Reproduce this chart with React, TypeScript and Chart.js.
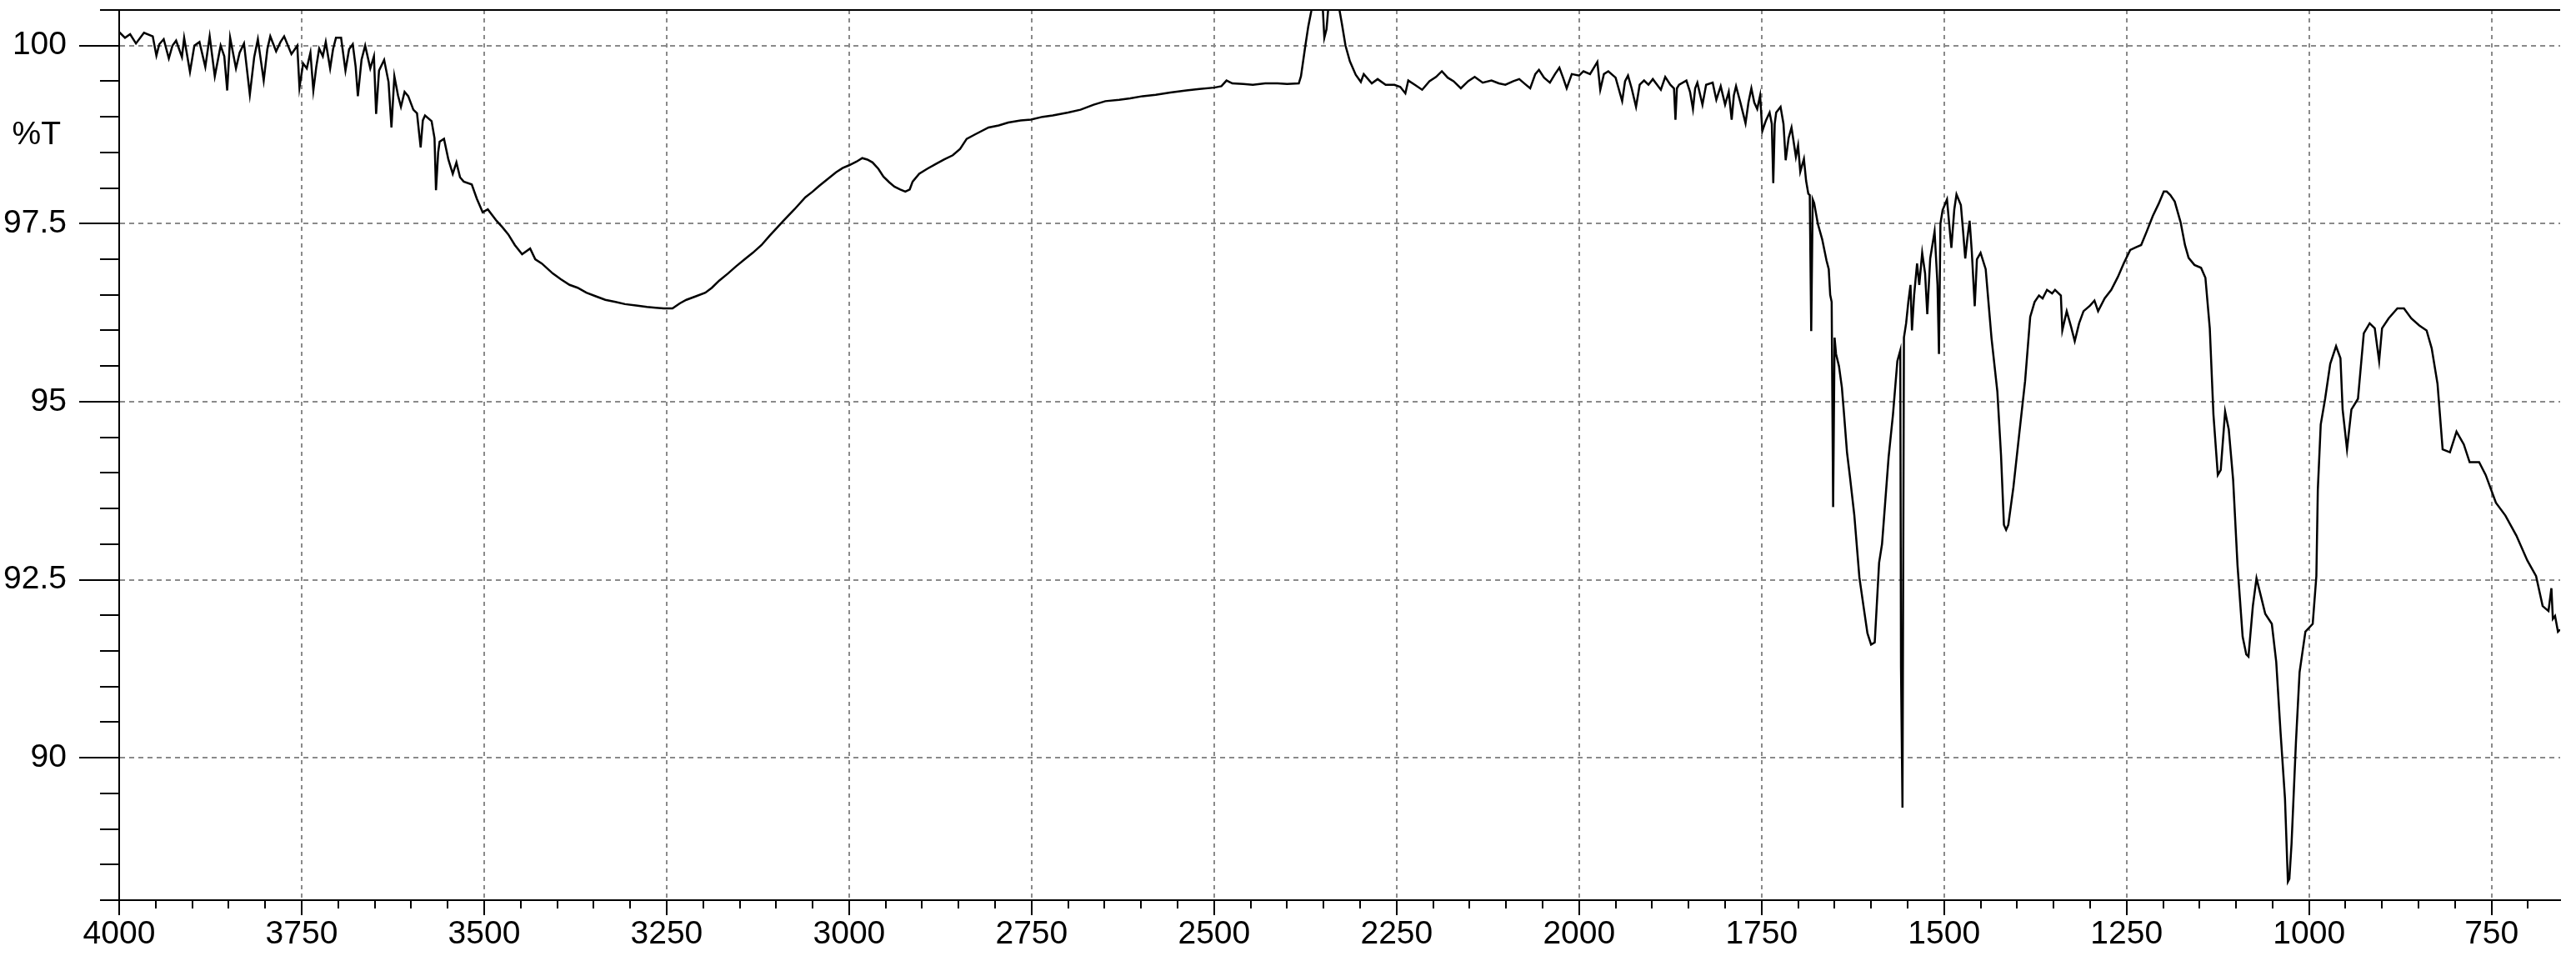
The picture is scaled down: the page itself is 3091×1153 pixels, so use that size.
import React, { useEffect, useRef } from 'react';
import { Chart, registerables } from 'chart.js';

Chart.register(...registerables);

// Axis ranges and labelled ticks
const X_MIN = 656;
const X_MAX = 4000;
const Y_MIN = 88;
const Y_MAX = 100.5;
const xTickLabels = [4000, 3750, 3500, 3250, 3000, 2750, 2500, 2250, 2000, 1750, 1500, 1250, 1000, 750];
const yTickLabels = [100, 97.5, 95, 92.5, 90];
const yAxisUnit = '%T';

// Spectrum: [wavenumber, %T]
const segOH: [number, number][] = [
  [4000, 100.19], [3992, 100.11], [3985, 100.16], [3977, 100.03], [3966, 100.18], [3954, 100.13], [3949, 99.86],
  [3945, 100.02], [3939, 100.09], [3932, 99.82], [3927, 100.0], [3922, 100.07], [3914, 99.84], [3911, 100.11],
  [3903, 99.63], [3897, 100.0], [3890, 100.05], [3882, 99.7], [3876, 100.13], [3869, 99.57], [3861, 100.0],
  [3856, 99.85], [3852, 99.37], [3848, 100.11], [3840, 99.68], [3835, 99.9], [3829, 100.03], [3821, 99.31],
  [3815, 99.84], [3810, 100.09], [3802, 99.51], [3797, 99.95], [3793, 100.13], [3785, 99.92], [3779, 100.05],
  [3774, 100.13], [3764, 99.88], [3756, 100.0], [3753, 99.41], [3748, 99.75], [3743, 99.68], [3738, 99.9],
  [3734, 99.37], [3730, 99.7], [3726, 99.96], [3721, 99.85], [3717, 100.05], [3711, 99.68], [3707, 99.95],
  [3703, 100.11], [3696, 100.11], [3690, 99.65], [3685, 99.95], [3680, 100.02], [3676, 99.7], [3673, 99.29],
  [3668, 99.8], [3663, 100.0], [3656, 99.68], [3651, 99.85], [3648, 99.04], [3644, 99.65], [3637, 99.8],
  [3631, 99.49], [3627, 98.85], [3623, 99.57], [3618, 99.3], [3614, 99.14], [3609, 99.35], [3604, 99.29],
  [3597, 99.1], [3592, 99.05], [3587, 98.57], [3584, 98.95], [3581, 99.02], [3572, 98.94], [3568, 98.7],
  [3566, 97.97], [3563, 98.5], [3561, 98.65], [3555, 98.69], [3549, 98.4], [3543, 98.2], [3538, 98.36],
  [3533, 98.15], [3528, 98.09], [3517, 98.05], [3510, 97.85], [3502, 97.66], [3495, 97.7], [3483, 97.54],
  [3475, 97.45], [3467, 97.35], [3458, 97.2], [3448, 97.07], [3437, 97.15], [3430, 97.0], [3421, 96.94],
];

const segCH: [number, number][] = [
  [3406, 96.8], [3395, 96.72], [3383, 96.64], [3372, 96.6], [3360, 96.53], [3347, 96.48], [3334, 96.43],
  [3320, 96.4], [3307, 96.37], [3292, 96.35], [3277, 96.33], [3265, 96.32], [3254, 96.31], [3242, 96.31],
  [3232, 96.38], [3223, 96.43], [3210, 96.48], [3197, 96.53], [3188, 96.6], [3178, 96.7], [3166, 96.8],
  [3155, 96.9], [3143, 97.0], [3132, 97.09], [3120, 97.2], [3109, 97.33], [3100, 97.43], [3090, 97.54],
  [3075, 97.7], [3060, 97.87], [3050, 97.95], [3041, 98.03], [3030, 98.12], [3018, 98.22], [3009, 98.28],
  [3000, 98.32], [2990, 98.37], [2982, 98.42], [2975, 98.4], [2968, 98.36], [2960, 98.27], [2953, 98.16],
  [2945, 98.08], [2938, 98.02], [2930, 97.98], [2923, 97.95], [2917, 97.98], [2913, 98.09], [2904, 98.2],
  [2893, 98.27], [2881, 98.34], [2870, 98.4], [2858, 98.46], [2848, 98.55], [2839, 98.69], [2828, 98.75],
];

const segCO2: [number, number][] = [
  [2809, 98.85], [2795, 98.88], [2782, 98.92], [2765, 98.95], [2751, 98.96], [2735, 99.0], [2721, 99.02],
  [2700, 99.06], [2683, 99.1], [2665, 99.17], [2649, 99.22], [2630, 99.24], [2615, 99.26], [2598, 99.29],
  [2580, 99.31], [2560, 99.34], [2538, 99.37], [2520, 99.39], [2500, 99.41], [2490, 99.43], [2483, 99.51],
  [2475, 99.47], [2460, 99.46], [2447, 99.45], [2430, 99.47], [2413, 99.47], [2400, 99.46], [2384, 99.47],
  [2381, 99.57], [2375, 100.0], [2371, 100.27], [2367, 100.48], [2362, 101.0], [2354, 101.0], [2351, 100.5],
  [2349, 100.11], [2346, 100.23], [2343, 100.6], [2338, 101.0], [2330, 100.6], [2325, 100.31], [2320, 100.0],
  [2314, 99.78], [2306, 99.59], [2299, 99.49], [2295, 99.6], [2284, 99.47], [2276, 99.53], [2265, 99.45],
  [2253, 99.45], [2245, 99.42], [2238, 99.33], [2234, 99.51],
];

const segMid: [number, number][] = [
  [2225, 99.45], [2215, 99.38], [2205, 99.5], [2196, 99.56], [2188, 99.64], [2180, 99.55], [2172, 99.5],
  [2162, 99.4], [2152, 99.5], [2143, 99.56], [2132, 99.48], [2120, 99.51], [2110, 99.47], [2101, 99.45],
  [2090, 99.5], [2082, 99.53], [2074, 99.46], [2067, 99.4], [2060, 99.6], [2055, 99.66], [2048, 99.55],
  [2040, 99.48], [2033, 99.6], [2027, 99.69], [2022, 99.55], [2017, 99.4], [2010, 99.6], [2000, 99.58],
  [1994, 99.64], [1985, 99.6], [1975, 99.77], [1971, 99.38], [1966, 99.6], [1960, 99.64], [1950, 99.55],
  [1941, 99.22], [1937, 99.5], [1933, 99.58], [1928, 99.4], [1922, 99.14], [1917, 99.45], [1911, 99.51],
  [1905, 99.45], [1899, 99.53], [1888, 99.38], [1882, 99.56], [1875, 99.45], [1870, 99.4], [1868, 98.96],
  [1866, 99.4], [1863, 99.45], [1853, 99.51], [1848, 99.35], [1844, 99.11], [1841, 99.4], [1838, 99.48],
  [1831, 99.17], [1826, 99.45], [1817, 99.48], [1812, 99.24], [1806, 99.43], [1800, 99.17], [1795, 99.35],
  [1791, 98.96], [1788, 99.3], [1785, 99.43], [1779, 99.2], [1772, 98.91], [1768, 99.2], [1764, 99.4],
  [1760, 99.2], [1756, 99.11], [1752, 99.3], [1749, 98.8], [1744, 98.95], [1739, 99.06], [1736, 98.9],
  [1734, 98.07], [1732, 98.9], [1730, 99.06], [1724, 99.14], [1720, 98.9], [1717, 98.39], [1713, 98.7],
  [1709, 98.85],
];

const segAmide: [number, number][] = [
  [1703, 98.44], [1700, 98.6], [1697, 98.23], [1692, 98.41], [1689, 98.1], [1686, 97.92], [1684, 97.9],
  [1682, 95.99], [1680, 97.84], [1678, 97.79], [1673, 97.5], [1667, 97.28], [1661, 96.98], [1658, 96.86],
  [1656, 96.5], [1654, 96.4], [1652, 93.52], [1650, 95.9], [1648, 95.67], [1644, 95.5], [1640, 95.2],
  [1637, 94.82], [1633, 94.29], [1629, 93.95], [1623, 93.41], [1616, 92.53], [1610, 92.1], [1605, 91.75],
  [1600, 91.59], [1595, 91.62], [1589, 92.74], [1585, 93.0], [1581, 93.54], [1576, 94.22], [1570, 94.82],
  [1564, 95.57], [1560, 95.72], [1559, 91.27], [1557, 89.3], [1555, 95.9], [1552, 96.1], [1549, 96.4],
  [1546, 96.64], [1544, 96.0], [1541, 96.5], [1537, 96.94], [1534, 96.64], [1530, 97.09], [1526, 96.8],
  [1523, 96.23], [1519, 97.01], [1513, 97.39], [1509, 96.64], [1507, 95.67], [1505, 97.5], [1502, 97.69],
  [1496, 97.84], [1493, 97.5], [1490, 97.16], [1486, 97.7], [1483, 97.91], [1477, 97.76], [1474, 97.4],
  [1471, 97.01], [1468, 97.3], [1465, 97.54], [1462, 97.1], [1458, 96.34], [1455, 97.0], [1450, 97.09],
  [1443, 96.86], [1435, 95.89], [1427, 95.14], [1422, 94.25], [1418, 93.27], [1415, 93.2], [1412, 93.27],
  [1405, 93.8], [1397, 94.55], [1389, 95.29], [1382, 96.19], [1376, 96.4], [1370, 96.49], [1365, 96.45],
  [1359, 96.57], [1352, 96.52], [1348, 96.57], [1340, 96.49], [1338, 96.0], [1332, 96.27], [1326, 96.05],
  [1321, 95.85], [1315, 96.1], [1309, 96.27], [1300, 96.35], [1294, 96.42], [1289, 96.27], [1280, 96.45],
  [1271, 96.57], [1262, 96.75], [1254, 96.94], [1245, 97.13], [1237, 97.17], [1230, 97.2], [1222, 97.4],
  [1214, 97.61], [1206, 97.78], [1199, 97.95], [1195, 97.95],
];

const segFinger: [number, number][] = [
  [1190, 97.9], [1184, 97.81], [1176, 97.52], [1170, 97.2], [1165, 97.02], [1157, 96.92], [1148, 96.88],
  [1142, 96.74], [1136, 96.03], [1131, 94.82], [1125, 93.97], [1121, 94.04], [1115, 94.86], [1110, 94.61],
  [1104, 93.9], [1098, 92.7], [1091, 91.7], [1086, 91.45], [1083, 91.42], [1077, 92.13], [1072, 92.52],
  [1066, 92.27], [1060, 92.02], [1051, 91.88], [1045, 91.35], [1039, 90.35], [1033, 89.43], [1029, 88.26],
  [1027, 88.3], [1024, 88.79], [1018, 90.21], [1013, 91.2], [1005, 91.77], [995, 91.88], [990, 92.55],
  [988, 93.76], [984, 94.68], [978, 95.04], [971, 95.53], [963, 95.78], [957, 95.61], [954, 94.89],
  [948, 94.33], [942, 94.89], [933, 95.04], [925, 95.96], [917, 96.1], [910, 96.03], [904, 95.57],
  [900, 96.03], [891, 96.17], [879, 96.31], [870, 96.31], [860, 96.17], [849, 96.07], [839, 96.0],
  [832, 95.75], [824, 95.25], [817, 94.33], [807, 94.29], [798, 94.58], [788, 94.4], [780, 94.15],
  [767, 94.15], [758, 93.97], [744, 93.58], [731, 93.4], [716, 93.12], [701, 92.77], [689, 92.55],
  [680, 92.13], [672, 92.06], [668, 92.38], [666, 91.95], [663, 91.99], [659, 91.77], [656, 91.8],
];

const spectrum = [...segOH, ...segCH, ...segCO2, ...segMid, ...segAmide, ...segFinger];

const FONT_FAMILY = "'Liberation Sans', Arial, Helvetica, sans-serif";
const FONT_SIZE = 39;
const GRID_COLOR = '#8a8a8a';
const AXIS_COLOR = '#000000';

const framePlugin = {
  id: 'irFrame',
  afterDraw(chart: any) {
    const { ctx, chartArea, scales } = chart;
    const xs = scales.x;
    const ys = scales.y;
    ctx.save();
    ctx.strokeStyle = AXIS_COLOR;
    ctx.lineWidth = 2;
    ctx.beginPath();
    ys.ticks.forEach((t: any) => {
      if (yTickLabels.includes(t.value)) return;
      const y = Math.round(ys.getPixelForValue(t.value));
      ctx.moveTo(chartArea.left - 23, y);
      ctx.lineTo(chartArea.left, y);
    });
    xs.ticks.forEach((t: any) => {
      if (xTickLabels.includes(t.value)) return;
      const x = Math.round(xs.getPixelForValue(t.value));
      ctx.moveTo(x, chartArea.bottom);
      ctx.lineTo(x, chartArea.bottom + 10);
    });
    ctx.moveTo(chartArea.left, chartArea.top);
    ctx.lineTo(chartArea.right, chartArea.top);
    ctx.stroke();
    ctx.fillStyle = '#000';
    ctx.font = `${FONT_SIZE}px ${FONT_FAMILY}`;
    ctx.textAlign = 'right';
    ctx.textBaseline = 'middle';
    ctx.fillText(yAxisUnit, chartArea.left - 70, ys.getPixelForValue(98.74));
    ctx.restore();
  },
};

export default function App() {
  const canvasRef = useRef<HTMLCanvasElement | null>(null);

  useEffect(() => {
    const canvas = canvasRef.current;
    if (!canvas) return;
    const chart = new Chart(canvas, {
      type: 'line',
      data: {
        datasets: [
          {
            label: 'Spectrum',
            data: spectrum.map(([x, y]) => ({ x, y })),
            borderColor: '#000000',
            borderWidth: 2.5,
            pointRadius: 0,
            tension: 0,
            fill: false,
          },
        ],
      },
      plugins: [framePlugin],
      options: {
        animation: false,
        responsive: false,
        devicePixelRatio: 1,
        layout: { padding: { left: 0, right: 19, top: 12, bottom: 0 } },
        plugins: {
          legend: { display: false },
          tooltip: { enabled: false },
          title: { display: false },
        },
        scales: {
          x: {
            type: 'linear',
            reverse: true,
            min: X_MIN,
            max: X_MAX,
            afterFit: (s: any) => {
              s.height = 73;
              s.paddingLeft = 0;
              s.paddingRight = 0;
            },
            ticks: {
              stepSize: 50,
              includeBounds: false,
              autoSkip: false,
              maxRotation: 0,
              minRotation: 0,
              padding: 0,
              color: '#000',
              font: { family: FONT_FAMILY, size: FONT_SIZE },
              callback: (v: any) => (xTickLabels.includes(Number(v)) ? String(v) : ''),
            },
            grid: {
              drawOnChartArea: true,
              drawTicks: true,
              lineWidth: 2,
              color: (c: any) => (c.tick && xTickLabels.includes(c.tick.value) ? GRID_COLOR : 'rgba(0,0,0,0)'),
              tickLength: 18,
              tickWidth: 2,
              tickColor: (c: any) => (c.tick && xTickLabels.includes(c.tick.value) ? AXIS_COLOR : 'rgba(0,0,0,0)'),
            },
            border: { display: true, color: AXIS_COLOR, width: 2, dash: [5, 5] },
          },
          y: {
            type: 'linear',
            min: Y_MIN,
            max: Y_MAX,
            afterFit: (s: any) => {
              s.width = 143;
              s.paddingTop = 0;
              s.paddingBottom = 0;
            },
            ticks: {
              stepSize: 0.5,
              maxTicksLimit: 1000,
              autoSkip: false,
              padding: 15,
              color: '#000',
              font: { family: FONT_FAMILY, size: FONT_SIZE },
              callback: (v: any) => (yTickLabels.includes(Number(v)) ? String(v) : ''),
            },
            grid: {
              drawOnChartArea: true,
              drawTicks: true,
              lineWidth: 2,
              color: (c: any) => (c.tick && yTickLabels.includes(c.tick.value) ? GRID_COLOR : 'rgba(0,0,0,0)'),
              tickLength: 48,
              tickWidth: 2,
              tickColor: (c: any) => (c.tick && yTickLabels.includes(c.tick.value) ? AXIS_COLOR : 'rgba(0,0,0,0)'),
            },
            border: { display: true, color: AXIS_COLOR, width: 2, dash: [6, 5] },
          },
        },
      } as any,
    });
    return () => chart.destroy();
  }, []);

  return (
    <div style={{ position: 'absolute', left: 0, top: 0, width: 3091, height: 1153, background: '#ffffff' }}>
      <canvas ref={canvasRef} width={3091} height={1153} style={{ display: 'block', width: 3091, height: 1153 }} />
    </div>
  );
}
